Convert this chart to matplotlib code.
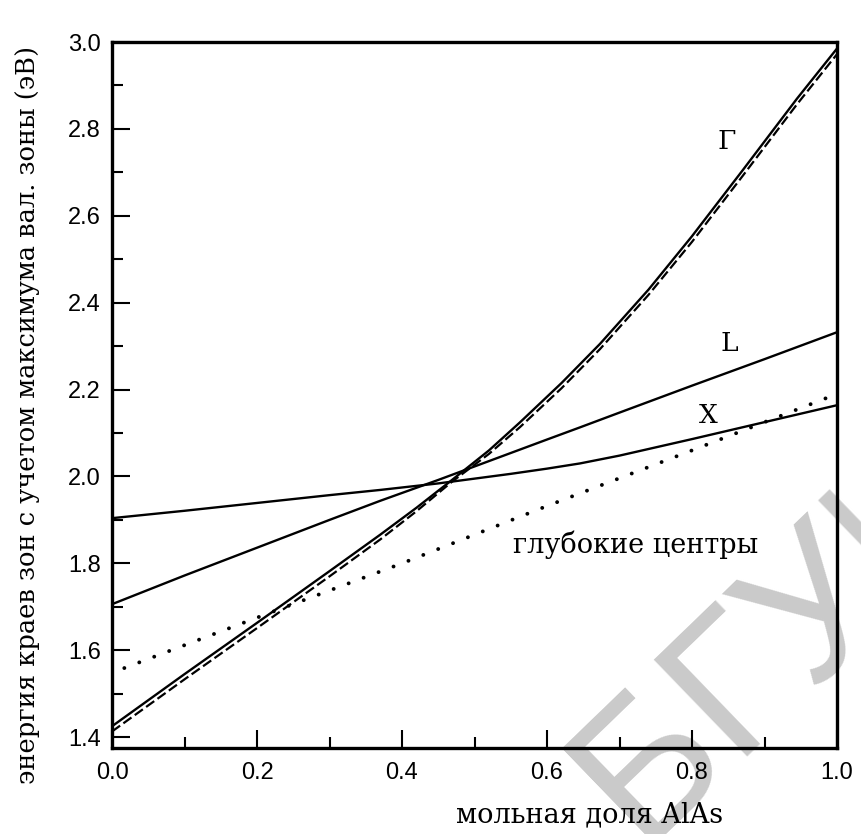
import numpy as np
import matplotlib
matplotlib.use('Agg')
import matplotlib.pyplot as plt

# mole fraction AlAs
x_gamma = [0.0, 0.1, 0.2, 0.3, 0.37, 0.42, 0.469, 0.52, 0.563, 0.62, 0.673,
           0.74, 0.8, 0.87, 0.945, 1.0]
# Gamma edge (solid) and its dashed companion, eV
gamma = [1.425, 1.545, 1.663, 1.782, 1.866, 1.928, 1.992, 2.060, 2.125, 2.215,
         2.305, 2.430, 2.553, 2.705, 2.870, 2.985]
gamma_dash = [1.413, 1.533, 1.651, 1.770, 1.855, 1.920, 1.988, 2.052, 2.114, 2.203,
              2.293, 2.418, 2.540, 2.692, 2.857, 2.972]

x_band = [0.0, 0.1, 0.2, 0.3, 0.37, 0.45, 0.5, 0.55, 0.6, 0.6455, 0.7, 0.8, 0.9, 1.0]
L_edge = [1.706, 1.772, 1.836, 1.900, 1.944, 1.992, 2.023, 2.054, 2.085, 2.113,
          2.147, 2.209, 2.270, 2.332]
X_edge = [1.904, 1.921, 1.939, 1.957, 1.969, 1.984, 1.995, 2.006, 2.018, 2.030,
          2.048, 2.086, 2.125, 2.164]

# deep centres (dotted)
x_deep = [0.017, 0.2, 0.4, 0.6, 0.8, 1.0]
deep = [1.559, 1.675, 1.800, 1.932, 2.060, 2.190]

fig = plt.figure(figsize=(8.61, 8.34), dpi=100)
ax = fig.add_axes([112/861, 1 - 748/834, 725/861, 706/834])
ax.set_facecolor('none')

serif = 'DejaVu Serif'

ax.plot(x_gamma, gamma, color='black', lw=1.7, zorder=3)
ax.plot(x_gamma, gamma_dash, color='black', lw=1.6, dashes=(4.5, 1.8), zorder=3)
ax.plot(x_band, L_edge, color='black', lw=1.7, zorder=3)
ax.plot(x_band, X_edge, color='black', lw=1.7, zorder=3)
ax.plot(x_deep, deep, color='black', lw=2.8, linestyle=(0, (0.01, 4.1)),
        dash_capstyle='round', zorder=3)

ax.text(0.848, 2.77, 'Γ', fontsize=19, family=serif, ha='center', va='center')
ax.text(0.852, 2.305, 'L', fontsize=19, family=serif, ha='center', va='center')
ax.text(0.823, 2.14, 'X', fontsize=19, family=serif, ha='center', va='center')
ax.text(0.553, 1.842, 'глубокие центры', fontsize=19.5, family=serif, ha='left', va='center')

ax.set_xlim(0, 1.0)
ax.set_ylim(1.375, 3.0)
ax.set_xticks(np.arange(0, 1.01, 0.2))
ax.set_xticks(np.arange(0.1, 1.0, 0.2), minor=True)
ax.set_yticks(np.arange(1.4, 3.01, 0.2))
ax.set_yticks(np.arange(1.5, 3.0, 0.2), minor=True)
ax.set_xticklabels(['0.0', '0.2', '0.4', '0.6', '0.8', '1.0'])
ax.set_yticklabels(['1.4', '1.6', '1.8', '2.0', '2.2', '2.4', '2.6', '2.8', '3.0'])

ax.tick_params(which='both', direction='in', width=1.5, top=False, right=False)
ax.tick_params(which='major', length=13)
ax.tick_params(which='minor', length=8)
ax.tick_params(axis='x', labelsize=17, pad=10)
ax.tick_params(axis='y', labelsize=17, pad=8)
for lab in ax.get_xticklabels() + ax.get_yticklabels():
    lab.set_family('Liberation Sans')
for s in ax.spines.values():
    s.set_linewidth(2.4)

fig.text(590/861, 1 - 815/834, 'мольная доля AlAs', fontsize=19.5, family=serif,
         ha='center', va='center')
fig.text(28/861, 1 - 415/834, 'энергия краев зон с учетом максимума вал. зоны (эВ)',
         fontsize=18.5, family=serif, rotation=90, ha='center', va='center')

# watermark
fig.text(640/861, 1 - 845/834, 'БГУИ', fontsize=140, family='Liberation Sans',
         color='#cacaca', rotation=44, rotation_mode='anchor',
         ha='left', va='baseline', zorder=-1)

fig.savefig('out.png', dpi=100)
